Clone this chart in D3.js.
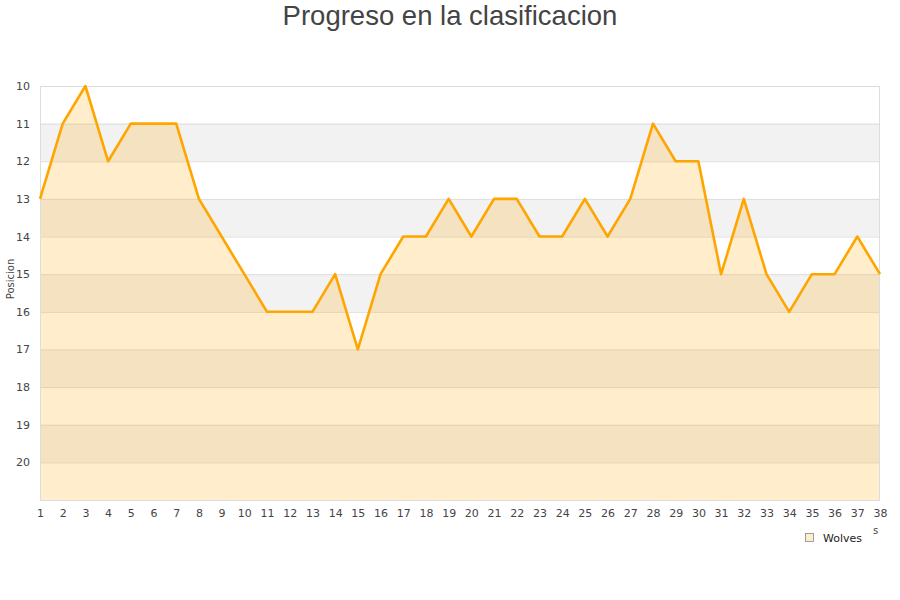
<!DOCTYPE html>
<html>
<head>
<meta charset="utf-8">
<script src="https://cdn.jsdelivr.net/npm/d3@7"></script>
<style>
  body { margin: 0; background: #fff; font-family: "DejaVu Sans", sans-serif; }
</style>
</head>
<body>
<div id="chart"></div>
<script>
// Jornadas y posiciones
const jornadas = d3.range(1, 39);
const posiciones = [13, 11, 10, 12, 11, 11, 11, 13, 14, 15, 16, 16, 16, 15, 17, 15, 14, 14, 13, 14,
  13, 13, 14, 14, 13, 14, 13, 11, 12, 12, 15, 13, 15, 16, 15, 15, 14, 15];
const yTicks = [10, 11, 12, 13, 14, 15, 16, 17, 18, 19, 20];
const equipo = 'Wolves';
const titulo = 'Progreso en la clasificacion';

const width = 900, height = 600;
const plotLeft = 40, plotRight = 880, plotTop = 86, plotBottom = 500;
const lineColor = '#ffa500';

const svg = d3.select('#chart')
  .append('svg')
  .attr('width', width)
  .attr('height', height);

const xscale = d3.scaleLinear().domain([1, 38]).range([plotLeft, plotRight]);
const yscale = d3.scaleLinear().domain([10, 21]).range([plotTop, plotBottom]);

// bandas alternas
svg.append('g')
  .selectAll('rect')
  .data(d3.range(10, 21))
  .join('rect')
  .attr('x', plotLeft)
  .attr('width', plotRight - plotLeft)
  .attr('y', d => yscale(d))
  .attr('height', d => yscale(d + 1) - yscale(d))
  .attr('fill', d => d % 2 === 1 ? '#f2f2f2' : '#ffffff');

// lineas de la rejilla
svg.append('g')
  .selectAll('line')
  .data(yTicks)
  .join('line')
  .attr('x1', plotLeft)
  .attr('x2', plotRight)
  .attr('y1', d => yscale(d) + 0.5)
  .attr('y2', d => yscale(d) + 0.5)
  .attr('stroke', '#dddddd');

// area
const area = d3.area()
  .x((d, i) => xscale(jornadas[i]))
  .y0(yscale(21))
  .y1(d => yscale(d));

svg.append('path')
  .datum(posiciones)
  .attr('d', area)
  .attr('fill', lineColor)
  .attr('fill-opacity', 0.2);

// marco
svg.append('rect')
  .attr('x', plotLeft + 0.5)
  .attr('y', plotTop + 0.5)
  .attr('width', plotRight - plotLeft - 1)
  .attr('height', plotBottom - plotTop)
  .attr('fill', 'none')
  .attr('stroke', '#dddddd');

const line = d3.line()
  .x((d, i) => xscale(jornadas[i]))
  .y(d => yscale(d));

svg.append('path')
  .datum(posiciones)
  .attr('d', line)
  .attr('fill', 'none')
  .attr('stroke', lineColor)
  .attr('stroke-width', 2.6)
  .attr('stroke-linejoin', 'round');

// ejes
const xaxis = d3.axisBottom(xscale).tickValues(jornadas).tickSize(0).tickPadding(9).tickFormat(d3.format('d'));
const yaxis = d3.axisLeft(yscale).tickValues(yTicks).tickSize(0).tickPadding(10).tickFormat(d3.format('d'));

const gx = svg.append('g')
  .attr('transform', 'translate(0,' + plotBottom + ')')
  .call(xaxis);
const gy = svg.append('g')
  .attr('transform', 'translate(' + plotLeft + ',0)')
  .call(yaxis);

[gx, gy].forEach(g => {
  g.select('.domain').remove();
  g.selectAll('text')
    .attr('fill', '#444')
    .style('font-size', '11px')
    .style('font-family', '"DejaVu Sans", sans-serif');
});

// titulo del eje y
svg.append('text')
  .attr('transform', 'translate(14,' + ((plotTop + plotBottom) / 2 - 14) + ') rotate(-90)')
  .attr('text-anchor', 'middle')
  .attr('fill', '#444')
  .style('font-size', '10px')
  .text('Posicion');

// titulo
svg.append('text')
  .attr('x', width / 2)
  .attr('y', 25)
  .attr('text-anchor', 'middle')
  .attr('fill', '#444')
  .style('font-size', '27.5px')
  .style('font-family', '"Liberation Sans", Arial, sans-serif')
  .text(titulo);

// leyenda
const legend = svg.append('g').attr('transform', 'translate(805,533)');
legend.append('rect')
  .attr('x', 0.5).attr('y', 0.5)
  .attr('width', 8).attr('height', 8)
  .attr('fill', lineColor).attr('fill-opacity', 0.2)
  .attr('stroke', '#888').attr('stroke-width', 0.8);
legend.append('text')
  .attr('x', 18).attr('y', 8.5)
  .attr('fill', '#222')
  .style('font-size', '11px')
  .text(equipo);

// resto recortado del titulo del eje x
svg.append('text')
  .attr('x', 873).attr('y', 534)
  .attr('fill', '#444')
  .style('font-size', '10px')
  .text('s');
</script>
</body>
</html>
